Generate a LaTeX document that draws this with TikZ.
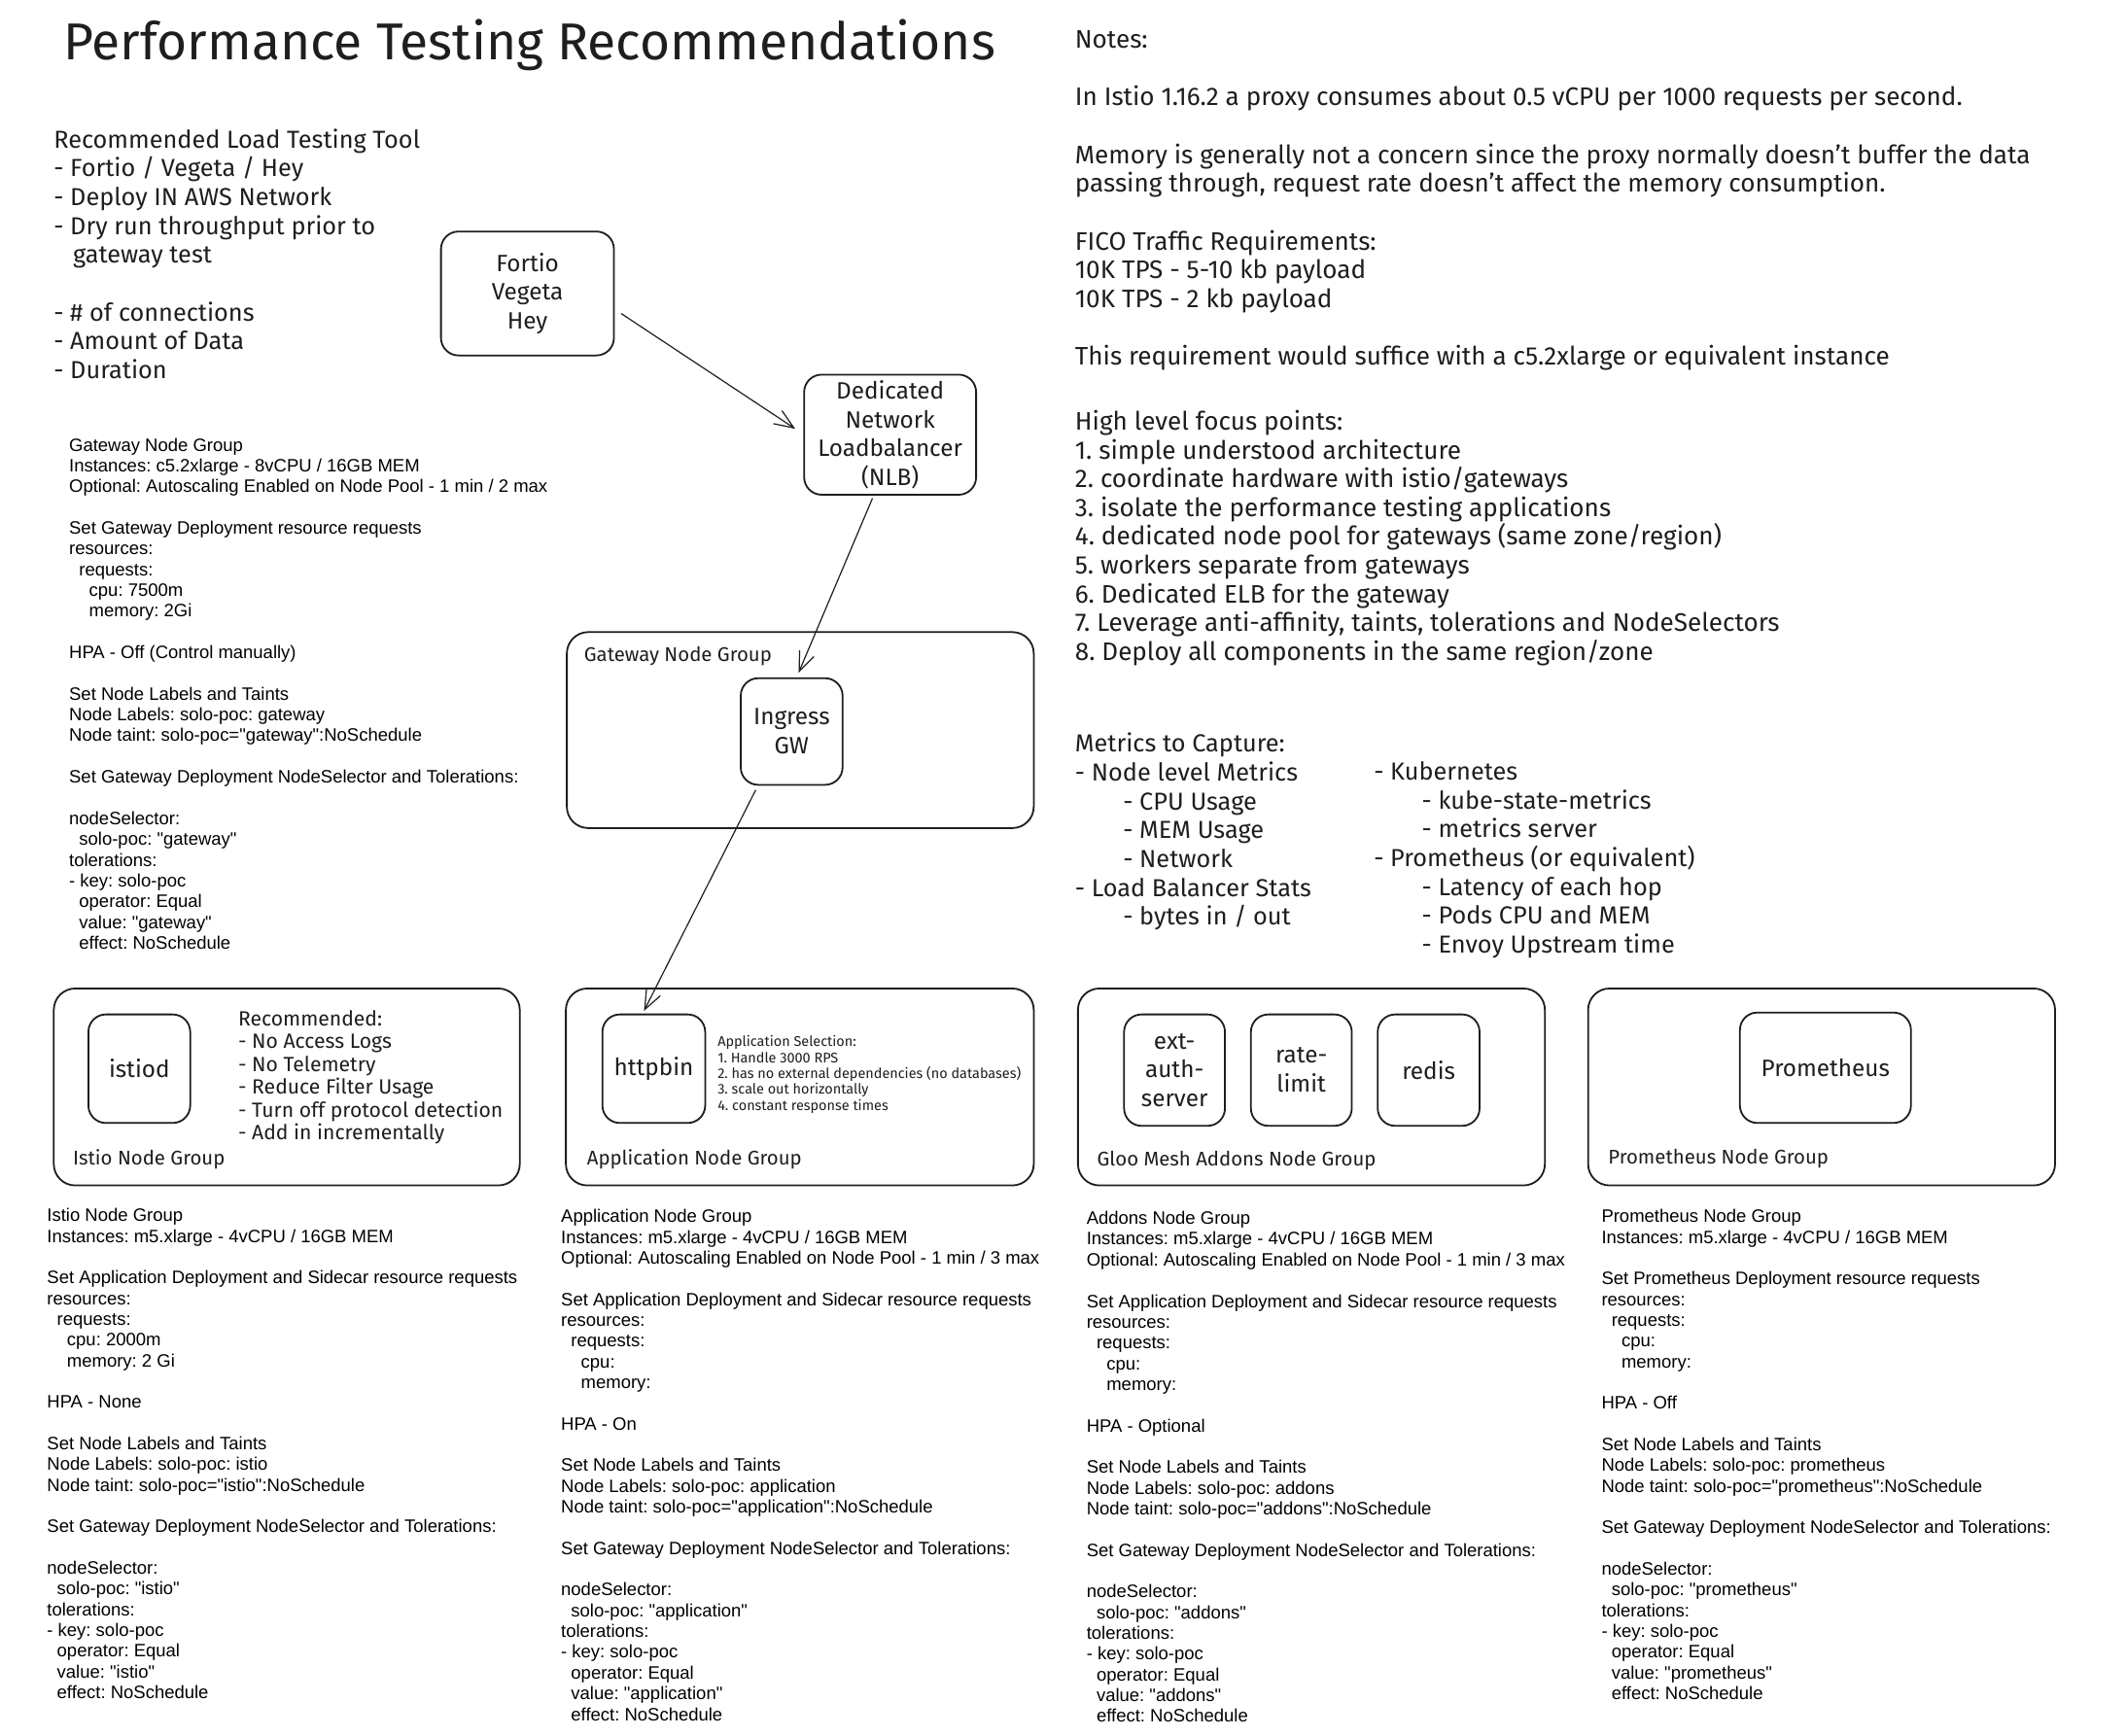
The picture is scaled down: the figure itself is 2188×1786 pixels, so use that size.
\documentclass[tikz,border=0pt]{standalone}
\usepackage{fontspec}
\newfontfamily\specfont{Liberation Sans}
\newfontfamily\handfont{Fira Sans}
\usetikzlibrary{arrows.meta}
\definecolor{ink}{HTML}{1E1E1E}
\newcommand\myind{\hspace*{0.556em}}
\newcommand\hind{\hspace*{25pt}}
\begin{document}
\begin{tikzpicture}[x=0.5pt,y=-0.5pt,
  every node/.style={inner sep=0pt, outer sep=0pt},
  grp/.style={draw=ink, line width=0.9pt, rounded corners=11pt},
  box/.style={draw=ink, line width=0.9pt, rounded corners=9pt, align=center, text=ink, font=\handfont\frenchspacing\fontsize{12.3}{15}\selectfont},
  hand/.style={anchor=north west, align=left, text=ink, font=\handfont\frenchspacing\fontsize{13.2}{15}\selectfont},
  handmid/.style={anchor=north west, align=left, text=ink, font=\handfont\frenchspacing\fontsize{12.8}{15}\selectfont},
  handsmall/.style={anchor=north west, align=left, text=ink, font=\handfont\frenchspacing\fontsize{10.7}{11.85}\selectfont},
  handtiny/.style={anchor=north west, align=left, text=ink, font=\handfont\frenchspacing\fontsize{7.3}{8.3}\selectfont},
  grplabel/.style={anchor=west, text=ink, font=\handfont\frenchspacing\fontsize{10.3}{11.85}\selectfont},
  spec/.style={anchor=north west, align=left, text=black, font=\specfont\frenchspacing\fontsize{9.35}{10.8}\selectfont},
  conn/.style={draw=ink, line width=0.6pt, -{Straight Barb[length=10pt,width=8pt]}}
]
\fill[white] (0,0) rectangle (2188,1786);
\useasboundingbox (0,0) rectangle (2188,1786);

\begin{scope}[scale=0.9883, transform shape]
% title
\node[anchor=base west, text=ink, font=\handfont\fontsize{27}{32}\selectfont] (title) at (66,62) {Performance Testing Recommendations};

% load testing tool
\node[handmid] (tool) at (56,134) {Recommended Load Testing Tool\\
- Fortio / Vegeta / Hey\\
- Deploy IN AWS Network\\
- Dry run throughput prior to\\
\hspace*{10pt}gateway test\\[15pt]
- \# of connections\\
- Amount of Data\\
- Duration};

% gateway spec
\node[spec] (gwspec) at (72,456) {Gateway Node Group\\
Instances: c5.2xlarge - 8vCPU / 16GB MEM\\
Optional: Autoscaling Enabled on Node Pool - 1 min / 2 max\\[10.8pt]
Set Gateway Deployment resource requests\\
resources:\\
\myind requests:\\
\myind\myind cpu: 7500m\\
\myind\myind memory: 2Gi\\[10.8pt]
HPA - Off (Control manually)\\[10.8pt]
Set Node Labels and Taints\\
Node Labels: solo-poc: gateway\\
Node taint: solo-poc="gateway":NoSchedule\\[10.8pt]
Set Gateway Deployment NodeSelector and Tolerations:\\[10.8pt]
nodeSelector:\\
\myind solo-poc: "gateway"\\
tolerations:\\
- key: solo-poc\\
\myind operator: Equal\\
\myind value: "gateway"\\
\myind effect: NoSchedule};

% notes
\node[hand] (notes) at (1119,32) {Notes:\\[15pt]
In Istio 1.16.2 a proxy consumes about 0.5 vCPU per 1000 requests per second.\\[15pt]
Memory is generally not a concern since the proxy normally doesn’t buffer the data\\
passing through, request rate doesn’t affect the memory consumption.\\[15pt]
FICO Traffic Requirements:\\
10K TPS - 5-10 kb payload\\
10K TPS - 2 kb payload\\[15pt]
This requirement would suffice with a c5.2xlarge or equivalent instance};

\node[hand] (focus) at (1119,427) {High level focus points:\\
1. simple understood architecture\\
2. coordinate hardware with istio/gateways\\
3. isolate the performance testing applications\\
4. dedicated node pool for gateways (same zone/region)\\
5. workers separate from gateways\\
6. Dedicated ELB for the gateway\\
7. Leverage anti-affinity, taints, tolerations and NodeSelectors\\
8. Deploy all components in the same region/zone};

\node[handmid] (metricsL) at (1119,763) {Metrics to Capture:\\
- Node level Metrics\\
\hind - CPU Usage\\
\hind - MEM Usage\\
\hind - Network\\
- Load Balancer Stats\\
\hind - bytes in / out};
\node[handmid] (metricsR) at (1430,793) {- Kubernetes\\
\hind - kube-state-metrics\\
\hind - metrics server\\
- Prometheus (or equivalent)\\
\hind - Latency of each hop\\
\hind - Pods CPU and MEM\\
\hind - Envoy Upstream time};

% top diagram
\node[box, minimum width=90pt, minimum height=64.5pt] (fortio) at (549,305.5) {Fortio\\Vegeta\\Hey};
\node[box, minimum width=89.5pt, minimum height=62.5pt] (nlb) at (926.5,452.5) {Dedicated\\Network\\Loadbalancer\\(NLB)};
\node[grp, minimum width=243pt, minimum height=102pt] (gwgrp) at (833,760) {};
\node[grplabel] (gwlabel) at (608,683) {Gateway Node Group};
\node[box, minimum width=53pt, minimum height=55.5pt] (ingress) at (824,761.5) {Ingress\\GW};

% bottom groups
\node[grp, minimum width=242.5pt, minimum height=102.5pt] (istiogrp) at (298.5,1131.5) {};
\node[box, minimum width=53pt, minimum height=56.5pt] (istiod) at (145,1112.5) {istiod};
\node[handsmall] (recom) at (248,1052) {Recommended:\\
- No Access Logs\\
- No Telemetry\\
- Reduce Filter Usage\\
- Turn off protocol detection\\
- Add in incrementally};
\node[grplabel] (istiolabel) at (76,1207) {Istio Node Group};

\node[grp, minimum width=243.5pt, minimum height=102.5pt] (appgrp) at (832.5,1131.5) {};
\node[box, minimum width=53.5pt, minimum height=56.5pt] (httpbin) at (680.5,1112.5) {httpbin};
\node[handtiny] (appsel) at (747,1078) {Application Selection:\\
1. Handle 3000 RPS\\
2. has no external dependencies (no databases)\\
3. scale out horizontally\\
4. constant response times};
\node[grplabel] (applabel) at (611,1207) {Application Node Group};

\node[grp, minimum width=243pt, minimum height=102.5pt] (addgrp) at (1365,1131.5) {};
\node[box, minimum width=52.5pt, minimum height=58pt] (extauth) at (1222.5,1114) {ext-\\auth-\\server};
\node[box, minimum width=52.5pt, minimum height=58pt] (ratelimit) at (1354.5,1114) {rate-\\limit};
\node[box, minimum width=53pt, minimum height=58pt] (redis) at (1487,1114) {redis};
\node[grplabel] (addlabel) at (1142,1208) {Gloo Mesh Addons Node Group};

\node[grp, minimum width=243pt, minimum height=102.5pt] (promgrp) at (1896,1131.5) {};
\node[box, minimum width=89pt, minimum height=57.5pt] (prom) at (1900,1111.5) {Prometheus};
\node[grplabel] (promlabel) at (1674,1206) {Prometheus Node Group};

% connectors
\draw[conn, shorten <=4.5pt, shorten >=5.5pt] (fortio.-10) -- (nlb.west);
\draw[conn, shorten <=2pt, shorten >=3pt] (nlb.-105) -- (ingress.85);
\draw[conn, shorten <=3pt, shorten >=2pt] (ingress.-122) -- (httpbin.102);

% bottom specs
\node[spec] (istiospec) at (49,1258) {Istio Node Group\\
Instances: m5.xlarge - 4vCPU / 16GB MEM\\[10.8pt]
Set Application Deployment and Sidecar resource requests\\
resources:\\
\myind requests:\\
\myind\myind cpu: 2000m\\
\myind\myind memory: 2 Gi\\[10.8pt]
HPA - None\\[10.8pt]
Set Node Labels and Taints\\
Node Labels: solo-poc: istio\\
Node taint: solo-poc="istio":NoSchedule\\[10.8pt]
Set Gateway Deployment NodeSelector and Tolerations:\\[10.8pt]
nodeSelector:\\
\myind solo-poc: "istio"\\
tolerations:\\
- key: solo-poc\\
\myind operator: Equal\\
\myind value: "istio"\\
\myind effect: NoSchedule};

\node[spec] (appspec) at (584,1259) {Application Node Group\\
Instances: m5.xlarge - 4vCPU / 16GB MEM\\
Optional: Autoscaling Enabled on Node Pool - 1 min / 3 max\\[10.8pt]
Set Application Deployment and Sidecar resource requests\\
resources:\\
\myind requests:\\
\myind\myind cpu:\\
\myind\myind memory:\\[10.8pt]
HPA - On\\[10.8pt]
Set Node Labels and Taints\\
Node Labels: solo-poc: application\\
Node taint: solo-poc="application":NoSchedule\\[10.8pt]
Set Gateway Deployment NodeSelector and Tolerations:\\[10.8pt]
nodeSelector:\\
\myind solo-poc: "application"\\
tolerations:\\
- key: solo-poc\\
\myind operator: Equal\\
\myind value: "application"\\
\myind effect: NoSchedule};

\node[spec] (addspec) at (1131,1261) {Addons Node Group\\
Instances: m5.xlarge - 4vCPU / 16GB MEM\\
Optional: Autoscaling Enabled on Node Pool - 1 min / 3 max\\[10.8pt]
Set Application Deployment and Sidecar resource requests\\
resources:\\
\myind requests:\\
\myind\myind cpu:\\
\myind\myind memory:\\[10.8pt]
HPA - Optional\\[10.8pt]
Set Node Labels and Taints\\
Node Labels: solo-poc: addons\\
Node taint: solo-poc="addons":NoSchedule\\[10.8pt]
Set Gateway Deployment NodeSelector and Tolerations:\\[10.8pt]
nodeSelector:\\
\myind solo-poc: "addons"\\
tolerations:\\
- key: solo-poc\\
\myind operator: Equal\\
\myind value: "addons"\\
\myind effect: NoSchedule};

\node[spec] (promspec) at (1667,1259) {Prometheus Node Group\\
Instances: m5.xlarge - 4vCPU / 16GB MEM\\[10.8pt]
Set Prometheus Deployment resource requests\\
resources:\\
\myind requests:\\
\myind\myind cpu:\\
\myind\myind memory:\\[10.8pt]
HPA - Off\\[10.8pt]
Set Node Labels and Taints\\
Node Labels: solo-poc: prometheus\\
Node taint: solo-poc="prometheus":NoSchedule\\[10.8pt]
Set Gateway Deployment NodeSelector and Tolerations:\\[10.8pt]
nodeSelector:\\
\myind solo-poc: "prometheus"\\
tolerations:\\
- key: solo-poc\\
\myind operator: Equal\\
\myind value: "prometheus"\\
\myind effect: NoSchedule};
\end{scope}
\end{tikzpicture}
\end{document}
